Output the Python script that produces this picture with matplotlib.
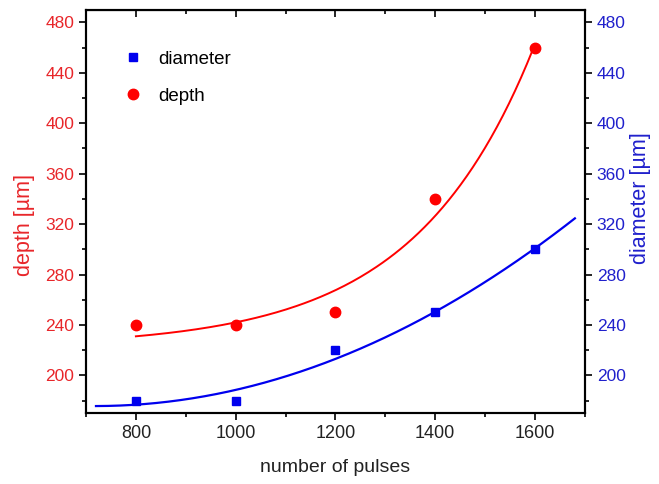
import numpy as np
import matplotlib
matplotlib.use("Agg")
import matplotlib.pyplot as plt
from matplotlib.ticker import MultipleLocator

plt.rcParams['font.family'] = ['Liberation Sans', 'DejaVu Sans']

pulses = [800, 1000, 1200, 1400, 1600]
depth = [240, 240, 250, 340, 460]
diameter = [180, 180, 220, 250, 300]

RED = '#ff0000'
BLUE = '#0000ee'
RED_TXT = '#e8262a'
BLUE_TXT = '#2020cc'


def exp_fit(x, y):
    x = np.asarray(x, float)
    y = np.asarray(y, float)
    best = None
    for t in np.linspace(50, 3000, 3000):
        e = np.exp((x - 800) / t)
        M = np.vstack([np.ones_like(e), e]).T
        coef, res, *_ = np.linalg.lstsq(M, y, rcond=None)
        r = np.sum((M @ coef - y) ** 2)
        if best is None or r < best[0]:
            best = (r, t, coef)
    _, t, coef = best
    return lambda xx: coef[0] + coef[1] * np.exp((np.asarray(xx) - 800) / t)


fig = plt.figure(figsize=(6.59, 4.84), dpi=100)
ax = fig.add_axes([0.1305, 0.146, 0.757, 0.834])
ax2 = ax.twinx()

f_depth = exp_fit(pulses, depth)
p_diam = np.polyfit(pulses, diameter, 2)
xr = np.linspace(800, 1600, 200)
xb = np.linspace(720, 1680, 200)
ax.plot(xr, f_depth(xr), color=RED, lw=1.4, zorder=2)
ax2.plot(xb, np.polyval(p_diam, xb), color=BLUE, lw=1.6, zorder=2)

h_d, = ax2.plot(pulses, diameter, 's', color=BLUE, ms=6, ls='none', label='diameter')
h_r, = ax.plot(pulses, depth, 'o', color=RED, ms=7.5, ls='none', label='depth', zorder=3)

for a in (ax, ax2):
    a.set_xlim(700, 1700)
    a.set_ylim(170, 490)
    a.yaxis.set_major_locator(MultipleLocator(40))
    a.yaxis.set_minor_locator(MultipleLocator(20))
    a.set_yticks(np.arange(200, 481, 40))

ax.xaxis.set_major_locator(MultipleLocator(200))
ax.xaxis.set_minor_locator(MultipleLocator(100))
ax.set_xticks([800, 1000, 1200, 1400, 1600])

ax.tick_params(axis='both', which='major', direction='out', length=5, width=1.2, labelsize=12.5)
ax.tick_params(axis='both', which='minor', direction='out', length=3, width=1.2)
ax.tick_params(axis='y', colors=RED_TXT, which='both')
ax.tick_params(axis='y', which='both', color='black')
ax.tick_params(axis='x', colors='#222222', which='both')
ax.tick_params(axis='x', which='both', color='black')
ax.tick_params(axis='x', which='major', labelsize=13)
ax2.tick_params(axis='y', which='major', direction='out', length=5, width=1.2, labelsize=12.5, labelcolor=BLUE_TXT)
ax2.tick_params(axis='y', which='minor', direction='out', length=3, width=1.2)

top = ax.secondary_xaxis('top')
top.xaxis.set_major_locator(MultipleLocator(200))
top.xaxis.set_minor_locator(MultipleLocator(100))
top.tick_params(which='major', direction='in', length=5, width=1.2, labeltop=False)
top.tick_params(which='minor', direction='in', length=3, width=1.2)
top.set_xticks([800, 1000, 1200, 1400, 1600])
top.set_xticklabels([])

for a in (ax, ax2):
    for s in a.spines.values():
        s.set_linewidth(1.5)

ax.set_xlabel('number of pulses', fontsize=14, color='#222222', va='center')
ax.xaxis.set_label_coords(0.5, -0.134)
ax.set_ylabel('depth [µm]', fontsize=15.5, color=RED_TXT, va='center')
ax.yaxis.set_label_coords(-0.124, 0.466)
ax2.set_ylabel('diameter [µm]', fontsize=15.5, color=BLUE_TXT, va='center')
ax2.yaxis.set_label_coords(1.112, 0.533)

ax.legend([h_d, h_r], ['diameter', 'depth'], loc='upper left', frameon=False,
          fontsize=13.5, bbox_to_anchor=(0.04, 0.94), handletextpad=0.8,
          labelspacing=1.05, handlelength=1.1, markerscale=1.0)

fig.savefig('out.png', dpi=100)
